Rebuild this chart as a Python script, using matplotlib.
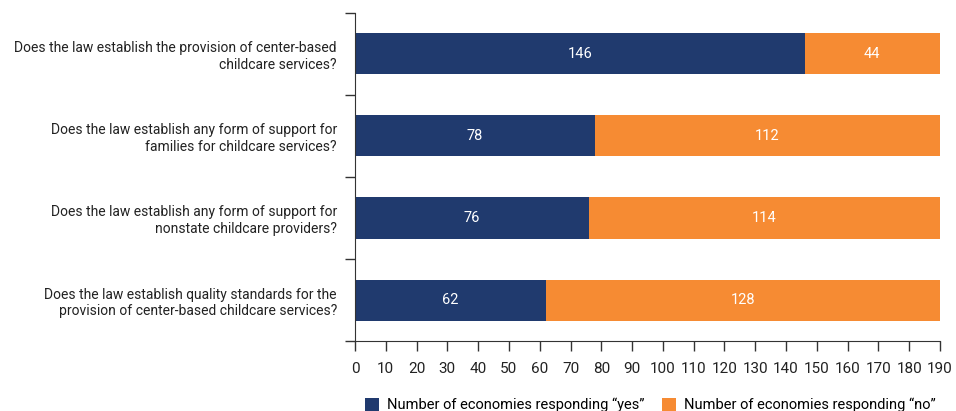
import numpy as np
import matplotlib.pyplot as plt
from matplotlib.patches import Patch

plt.rcParams['font.family'] = ['Roboto', 'DejaVu Sans']

questions = [
    "Does the law establish the provision of center-based\nchildcare services?",
    "Does the law establish any form of support for\nfamilies for childcare services?",
    "Does the law establish any form of support for\nnonstate childcare providers?",
    "Does the law establish quality standards for the\nprovision of center-based childcare services?",
]
yes_counts = [146, 78, 76, 62]
no_counts = [44, 112, 114, 128]
x_ticks = list(range(0, 191, 10))

navy = '#203A6E'
orange = '#F68B33'
fs = 10.5

fig = plt.figure(figsize=(9.56, 4.11), dpi=100)
ax = fig.add_axes([0.3713, 0.1703, 0.6120, 0.7981])

y = np.arange(len(questions))[::-1]
ax.barh(y, yes_counts, height=0.5, color=navy, edgecolor='none')
ax.barh(y, no_counts, left=yes_counts, height=0.5, color=orange, edgecolor='none')

for yi, a, b in zip(y, yes_counts, no_counts):
    ax.text(a / 2, yi, str(a), ha='center', va='center', color='white', fontsize=fs)
    ax.text(a + b / 2, yi, str(b), ha='center', va='center', color='white', fontsize=fs)

ax.set_xlim(0, 190)
ax.set_ylim(-0.5, len(questions) - 0.5)
ax.set_xticks(x_ticks)
ax.tick_params(axis='x', labelsize=11, length=7, width=1, color='#333333',
               labelcolor='#222222', pad=8)

ax.set_yticks(y)
ax.set_yticklabels(questions, fontsize=10, ha='right', color='#222222')
ax.tick_params(axis='y', length=0, pad=13)
ax.set_yticks(np.arange(-0.5, len(questions), 1.0), minor=True)
ax.tick_params(axis='y', which='minor', length=7, width=1, color='#333333')

for side in ['top', 'right']:
    ax.spines[side].set_visible(False)
ax.spines['left'].set_color('#333333')
ax.spines['bottom'].set_color('#333333')

handles = [Patch(facecolor=navy, label='Number of economies responding \u201cyes\u201d'),
           Patch(facecolor=orange, label='Number of economies responding \u201cno\u201d')]
fig.legend(handles=handles, loc='lower center', bbox_to_anchor=(0.68, -0.035), ncol=2,
           frameon=False, fontsize=fs, handlelength=1.0, handleheight=1.0,
           handletextpad=0.5, columnspacing=1.2)

fig.savefig('out.png', dpi=100)
